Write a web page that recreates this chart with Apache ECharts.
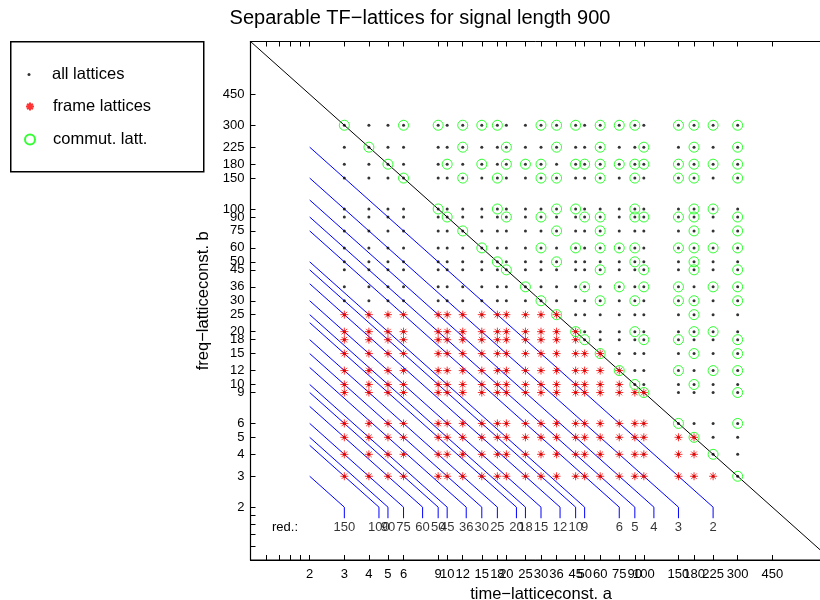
<!DOCTYPE html>
<html><head><meta charset="utf-8">
<script src="https://cdn.jsdelivr.net/npm/echarts@6/dist/echarts.min.js"></script>
<style>html,body{margin:0;padding:0;background:#fff}#c{width:820px;height:600px}</style>
</head><body><div id="c"></div>
<script>
// ---- data ----
const signalLength = 900;
const latticeConsts = [3,4,5,6,9,10,12,15,18,20,25,30,36,45,50,60,75,90,100,150,180,225,300];
const tickValues = [2,3,4,5,6,9,10,12,15,18,20,25,30,36,45,50,60,75,90,100,150,180,225,300,450];
const unlabeledTicks = [1.2,1.4,1.6,1.8];
// frame lattices: for each freq const b (row), largest time const a that is a frame
const frameRowsB = [3,4,5,6,9,10,12,15,18,20,25];
const frameMaxA  = [225,180,180,100,100,75,75,60,45,45,36];
// commutative lattices: for each b in latticeConsts order, the a values circled
const commutRows = [
  [300],
  [225],
  [180],
  [150,300],
  [100,300],
  [90,180],
  [75,150,225,300],
  [60,180,300],
  [50,100,150,300],
  [45,90,180,225],
  [36,180],
  [30,60,90,150,180,300],
  [25,50,75,100,150,225,300],
  [20,60,100,180,300],
  [18,36,90,180],
  [15,30,45,60,75,90,150,180,225,300],
  [12,36,60,180,300],
  [10,20,30,50,60,90,100,150,180,300],
  [9,18,36,45,90,180,225],
  [6,12,18,30,36,60,90,150,180,300],
  [5,10,15,20,25,30,45,50,60,75,90,100,150,180,225,300],
  [4,12,20,36,60,100,180,300],
  [3,6,9,12,15,18,30,36,45,60,75,90,150,180,225,300]
];
const redundancies = [150,100,90,75,60,50,45,36,30,25,20,18,15,12,10,9,6,5,4,3,2];

// ---- build ----
const allPts = [];
latticeConsts.forEach(b => latticeConsts.forEach(a => allPts.push([a, b])));
const framePts = [];
frameRowsB.forEach((b, i) => latticeConsts.forEach(a => { if (a <= frameMaxA[i]) framePts.push([a, b]); }));
const commutPts = [];
commutRows.forEach((row, i) => row.forEach(a => commutPts.push([a, latticeConsts[i]])));

const FONT = 'Liberation Sans, Arial, Helvetica, sans-serif';
const STAR = 'path://M5 0L5 10M0 5L10 5M1.5 1.5L8.5 8.5M1.5 8.5L8.5 1.5';
const allTicks = unlabeledTicks.concat(tickValues);

const series = [];
redundancies.forEach(r => {
  const prod = signalLength / r;
  const foot = prod / 2;
  series.push({
    type: 'line', silent: true, symbol: 'none', animation: false,
    lineStyle: { color: '#0000ff', width: 1 },
    data: [[2, prod / 2], [foot, 2], [foot, 1.73]], z: 2
  });
});
series.push({
  type: 'scatter', silent: true, symbolSize: 1, itemStyle: { color: 'rgba(0,0,0,0)' },
  label: { show: true, position: 'inside', color: '#000', fontSize: 13, fontFamily: FONT,
           formatter: p => String(p.value[2]) },
  data: redundancies.map(r => [signalLength / r / 2, 1.54, r]), z: 3
});
series.push({
  type: 'line', silent: true, symbol: 'none',
  lineStyle: { color: '#000', width: 1 },
  data: [[1, signalLength], [signalLength, 1]], z: 2
});
series.push({
  name: 'all lattices', type: 'scatter', symbol: 'circle', symbolSize: 3,
  itemStyle: { color: '#000' }, data: allPts, z: 4
});
series.push({
  name: 'frame lattices', type: 'scatter', symbol: STAR, symbolSize: 8,
  itemStyle: { color: '#ff0000', borderColor: '#ff0000', borderWidth: 1 }, data: framePts, z: 5
});
series.push({
  name: 'commut. latt.', type: 'scatter', symbol: 'circle', symbolSize: 10,
  itemStyle: { color: 'rgba(0,0,0,0)', borderColor: '#00ff00', borderWidth: 1 }, data: commutPts, z: 6
});

function logAxis(extra) {
  return Object.assign({
    type: 'log', logBase: 10, min: 1, max: 900,
    splitLine: { show: false },
    axisLine: { show: true, lineStyle: { color: '#000', width: 1.2 } },
    axisTick: { show: true, inside: true, length: 5, customValues: allTicks, lineStyle: { color: '#000' } },
    axisLabel: { show: true, customValues: tickValues, color: '#000', fontSize: 13, fontFamily: FONT },
    minorTick: { show: false }
  }, extra);
}

const legendBase = {
  orient: 'vertical', padding: 0, selectedMode: false,
  textStyle: { fontSize: 16.5, fontFamily: FONT, color: '#000' }
};

const option = {
  animation: false,
  backgroundColor: '#fff',
  title: {
    text: 'Separable TF\u2212lattices for signal length 900',
    left: 420, top: 8, textAlign: 'center', padding: 0,
    textStyle: { fontSize: 20, fontWeight: 'normal', fontFamily: FONT, color: '#000' }
  },
  grid: { left: 250.5, top: 41.5, width: 581, height: 518.5, show: true, borderColor: '#000', borderWidth: 1,
          containLabel: false, outerBoundsMode: 'none' },
  xAxis: [
    logAxis({ position: 'bottom', name: 'time\u2212latticeconst. a', nameLocation: 'middle', nameGap: 21,
      nameTextStyle: { fontSize: 16.5, fontFamily: FONT, color: '#000' },
      axisLabel: { show: true, customValues: tickValues, color: '#000', fontSize: 13, fontFamily: FONT, margin: 8 } }),
    logAxis({ position: 'top', axisLabel: { show: false }, axisLine: { show: false } })
  ],
  yAxis: [
    logAxis({ position: 'left', name: 'freq\u2212latticeconst. b', nameLocation: 'middle', nameGap: 35,
      nameTextStyle: { fontSize: 16.5, fontFamily: FONT, color: '#000' },
      axisLabel: { show: true, customValues: tickValues, color: '#000', fontSize: 13, fontFamily: FONT, margin: 6 } })
  ],
  legend: [
    Object.assign({}, legendBase, { data: ['all lattices'], left: 27.5, top: 66, itemWidth: 3, itemHeight: 3,
      textStyle: Object.assign({}, legendBase.textStyle, { padding: [0, 0, 0, 16.5] }) }),
    Object.assign({}, legendBase, { data: ['frame lattices'], left: 25, top: 98, itemWidth: 8, itemHeight: 8,
      textStyle: Object.assign({}, legendBase.textStyle, { padding: [0, 0, 0, 14] }) }),
    Object.assign({}, legendBase, { data: ['commut. latt.'], left: 24, top: 131, itemWidth: 10, itemHeight: 10,
      textStyle: Object.assign({}, legendBase.textStyle, { padding: [0, 0, 0, 13] }) })
  ],
  graphic: [
    { type: 'rect', left: 10, top: 41, z: -1, shape: { width: 193, height: 130 },
      style: { fill: '#fff', stroke: '#000', lineWidth: 1.5 } },
    { type: 'text', left: 272, top: 521, style: { text: 'red.:', fontSize: 13, fontFamily: FONT, fill: '#000' } }
  ],
  series: series
};
const chart = echarts.init(document.getElementById('c'), null, { renderer: 'canvas' });
chart.setOption(option);
</script>
</body></html>
